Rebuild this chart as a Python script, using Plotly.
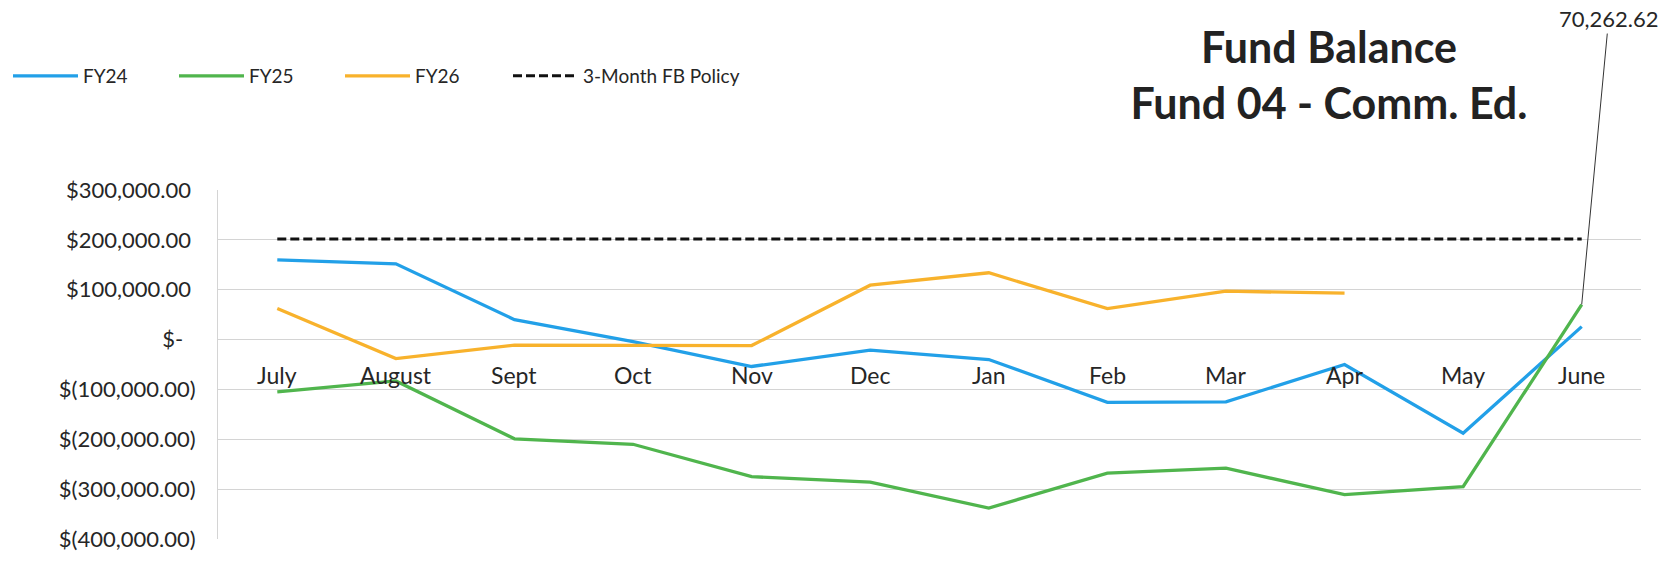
import plotly.graph_objects as go

# Months of the fiscal year (category axis)
months = ["July", "August", "Sept", "Oct", "Nov", "Dec",
          "Jan", "Feb", "Mar", "Apr", "May", "June"]

# Month-end fund balances by fiscal year
fy24 = [160000, 152000, 40000, -4000, -54000, -21000,
        -40000, -126000, -125000, -50000, -188000, 26000]
fy25 = [-105000, -83000, -199000, -210000, -275000, -286000,
        -338000, -268000, -258000, -311000, -295000, 70262.62]
fy26 = [62500, -38000, -11000, -11000, -12000, 109000,
        134000, 62000, 97000, 93000, None, None]

# Three-month fund balance policy level
policy = [201500] * len(months)

# Value axis ticks (accounting style labels)
y_ticks = [300000, 200000, 100000, 0, -100000, -200000, -300000, -400000]
y_tick_labels = ["$300,000.00\u2008", "$200,000.00\u2008", "$100,000.00\u2008",
                 "$-\u2002\u200a", "$(100,000.00)", "$(200,000.00)",
                 "$(300,000.00)", "$(400,000.00)"]

FONT = "Lato"
TEXT = "#262626"
W, H = 1670, 564

fig = go.Figure()
fig.add_trace(go.Scatter(x=months, y=fy24, name="FY24", mode="lines",
                         line=dict(color="#22A0E8", width=3.3)))
fig.add_trace(go.Scatter(x=months, y=fy25, name="FY25", mode="lines",
                         line=dict(color="#50B54D", width=3.3)))
fig.add_trace(go.Scatter(x=months, y=fy26, name="FY26", mode="lines",
                         line=dict(color="#F8B22C", width=3.3)))
fig.add_trace(go.Scatter(x=months, y=policy, name="3-Month FB Policy", mode="lines",
                         legend="legend2",
                         line=dict(color="#111111", width=3, dash="9px,4px")))

# Month labels sit just under the zero line
for m in months:
    fig.add_annotation(x=m, y=0, text=m, showarrow=False,
                       yanchor="middle", yshift=-35,
                       font=dict(family=FONT, size=23, color=TEXT))

# Data label for the June FY25 balance with a leader line
fig.add_annotation(x=months[-1], y=fy25[-1], text=f"{fy25[-1]:,.2f}",
                   showarrow=True, arrowhead=0, arrowwidth=1, arrowcolor="#333333",
                   ax=27, ay=-286, standoff=0,
                   font=dict(family=FONT, size=22, color=TEXT))

legend_common = dict(orientation="h", xref="container", yref="container",
                     xanchor="left", y=1 - 76 / H, yanchor="middle",
                     itemwidth=65, font=dict(family=FONT, size=19, color=TEXT),
                     bgcolor="rgba(0,0,0,0)")

fig.update_layout(
    width=W, height=H,
    margin=dict(l=218, r=29, t=190, b=16),
    paper_bgcolor="white", plot_bgcolor="white",
    font=dict(family=FONT, color=TEXT),
    title=dict(text="<b>Fund Balance</b><br><b>Fund 04 - Comm. Ed.</b>",
               x=1329 / W, xanchor="center", xref="container",
               y=1 - 63 / H, yanchor="middle", yref="container",
               font=dict(family=FONT, size=43, color="#222222")),
    legend=dict(x=8 / W, entrywidth=86, entrywidthmode="pixels", **legend_common),
    legend2=dict(x=508 / W, **legend_common),
    showlegend=True,
)

fig.update_xaxes(type="category", range=[-0.5, 11.5], showticklabels=False,
                 showgrid=False, zeroline=False, showline=False, ticks="")
fig.update_yaxes(range=[-400000, 300000], tickvals=y_ticks, ticktext=y_tick_labels,
                 showgrid=True, gridcolor="#D4D4D4", gridwidth=1,
                 zeroline=True, zerolinecolor="#D4D4D4", zerolinewidth=1,
                 showline=True, linecolor="#D4D4D4", linewidth=1,
                 ticks="", ticklabelstandoff=17,
                 tickfont=dict(family=FONT, size=22, color=TEXT))

fig.write_html("out.html")
